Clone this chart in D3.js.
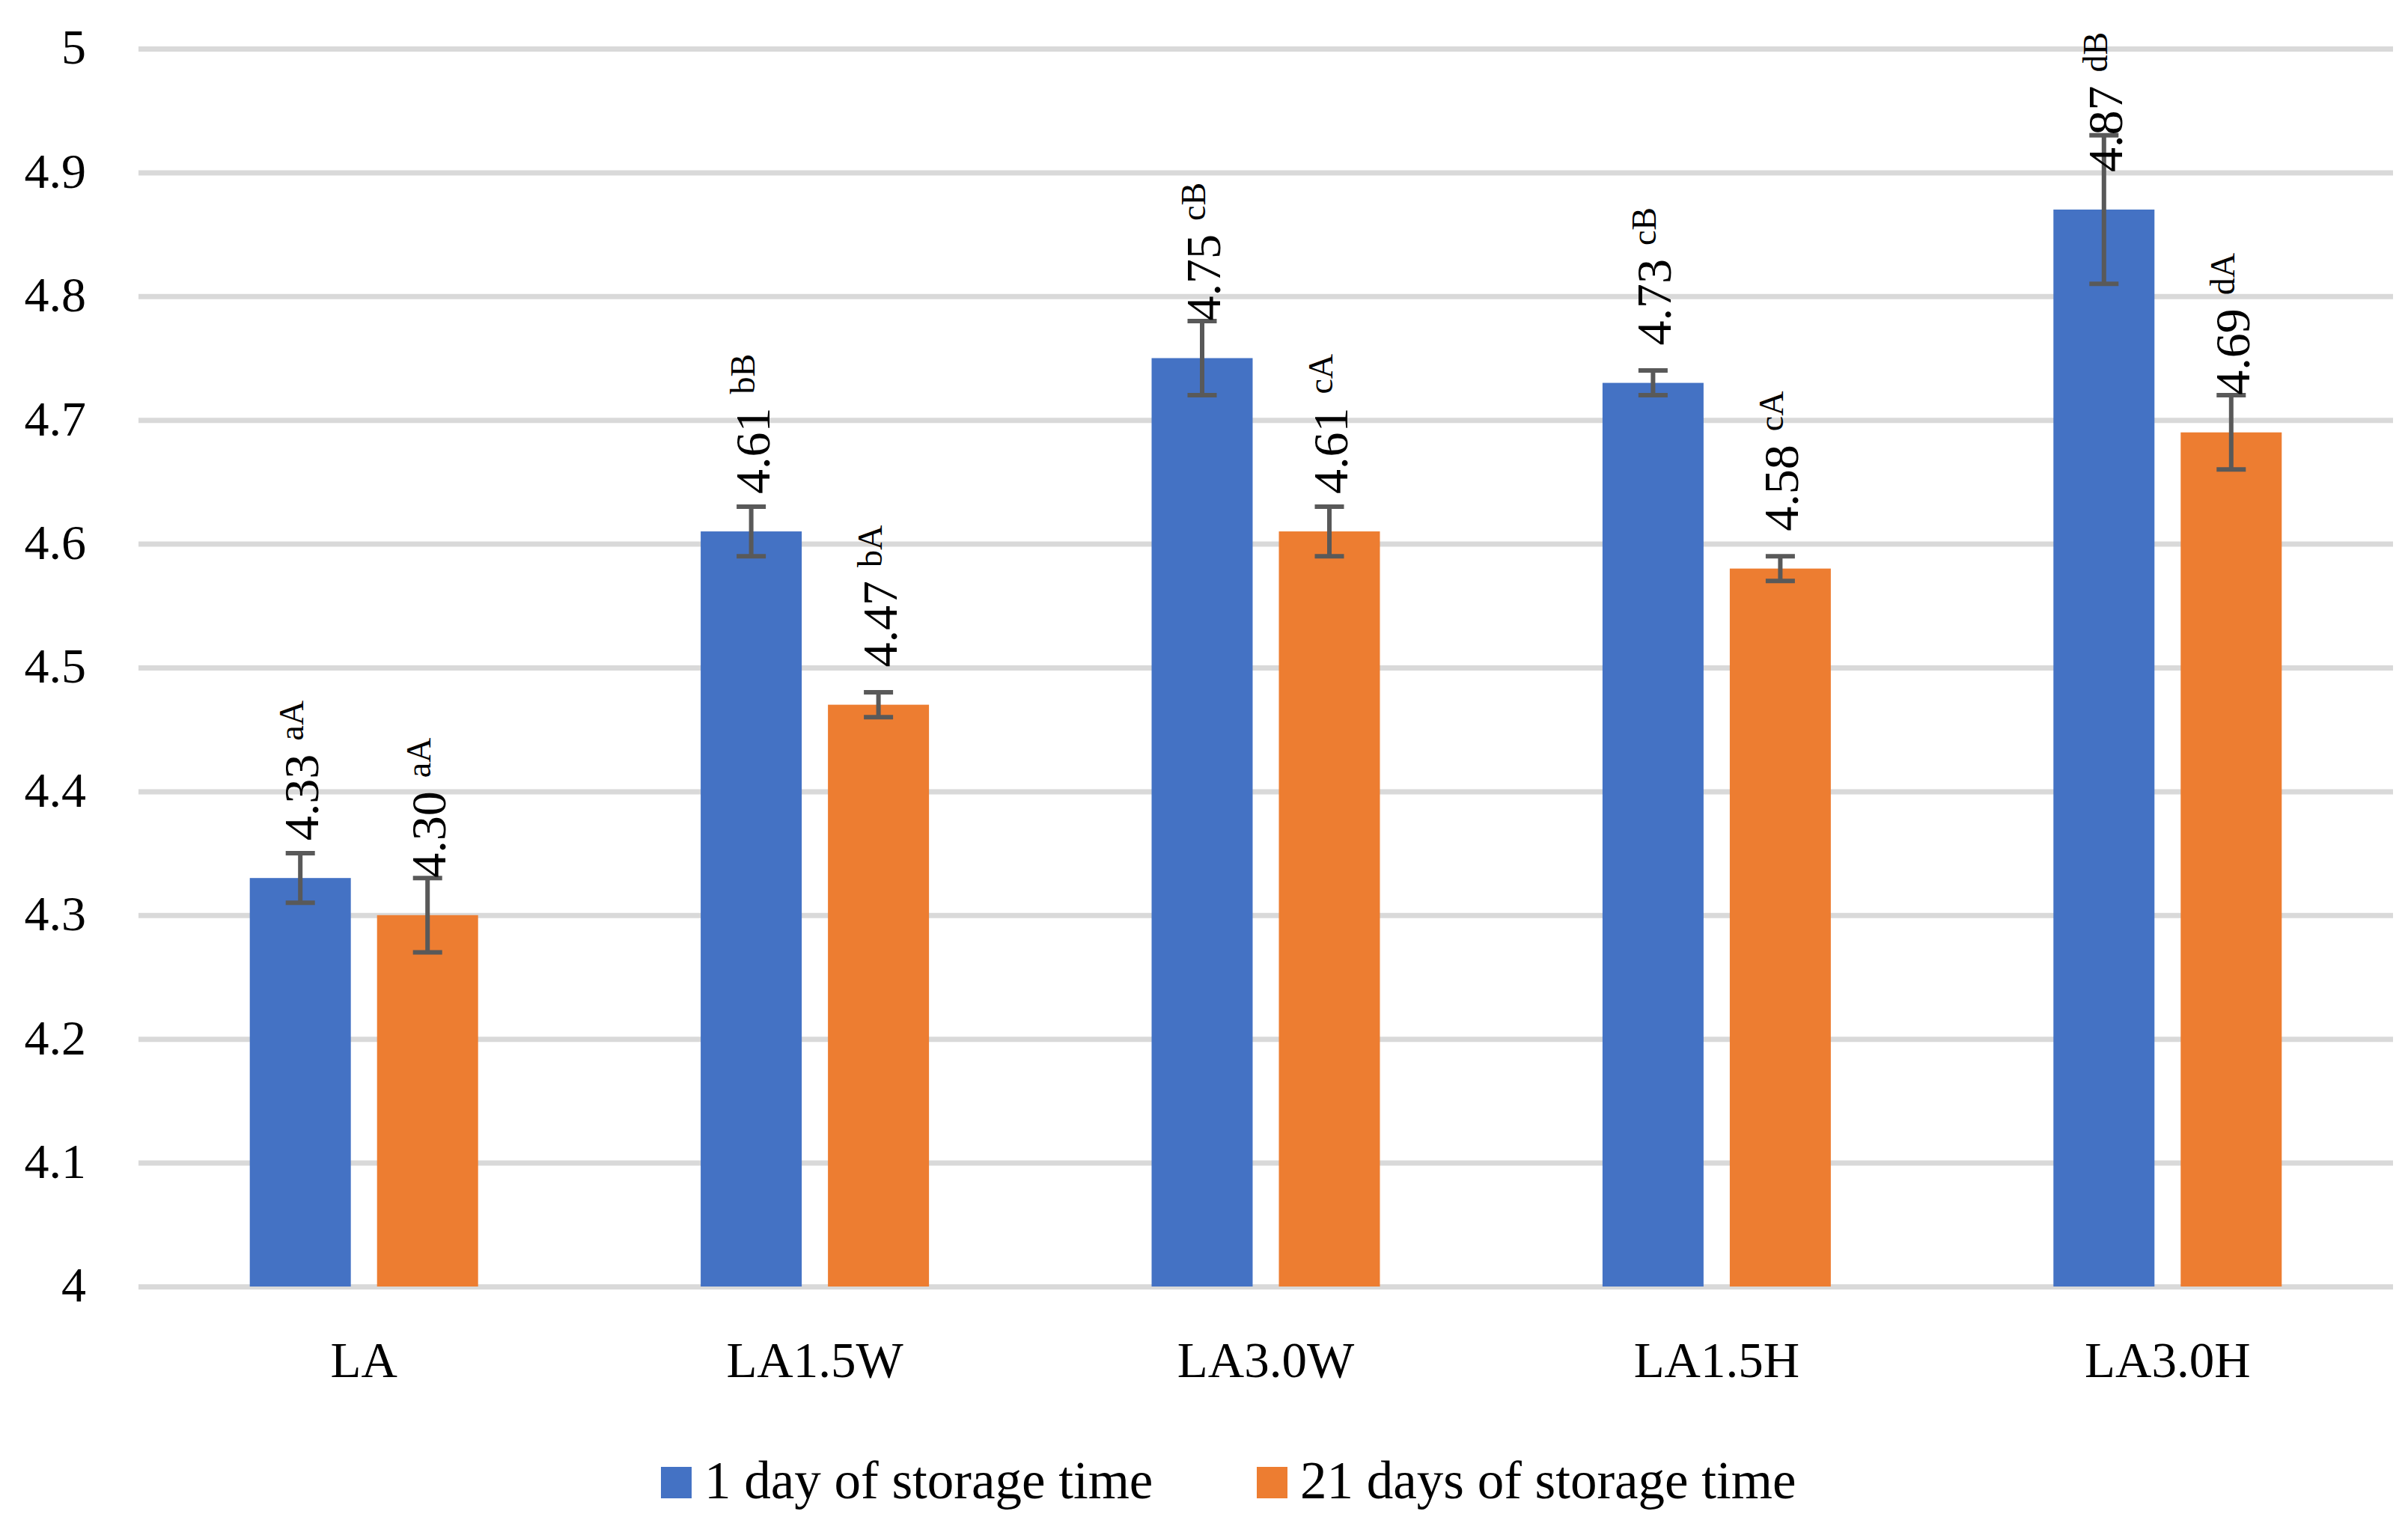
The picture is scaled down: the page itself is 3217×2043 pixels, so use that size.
<!DOCTYPE html>
<html>
<head>
<meta charset="utf-8">
<script src="https://cdn.jsdelivr.net/npm/d3@7"></script>
<style>
  body { margin: 0; background: #fff; }
  svg { display: block; }
  text { font-family: "Liberation Serif", serif; fill: #000; }
</style>
</head>
<body>
<svg id="chart" width="3217" height="2043"></svg>
<script>
// --- data ---
const categories = ["LA", "LA1.5W", "LA3.0W", "LA1.5H", "LA3.0H"];
const seriesNames = ["1 day of storage time", "21 days of storage time"];
const day1Values = [4.33, 4.61, 4.75, 4.73, 4.87];
const day21Values = [4.30, 4.47, 4.61, 4.58, 4.69];
const day1Errors = [0.02, 0.02, 0.03, 0.01, 0.06];
const day21Errors = [0.03, 0.01, 0.02, 0.01, 0.03];
const day1Letters = ["aA", "bB", "cB", "cB", "dB"];
const day21Letters = ["aA", "bA", "cA", "cA", "dA"];
const yTicks = [4, 4.1, 4.2, 4.3, 4.4, 4.5, 4.6, 4.7, 4.8, 4.9, 5];
const colors = ["#4472C4", "#ED7D31"];

const svg = d3.select("#chart");
const plotLeft = 185, plotRight = 3197, plotTop = 65, plotBottom = 1719;

const x0 = d3.scaleBand().domain(categories).range([plotLeft, plotRight])
  .paddingInner(0.4937).paddingOuter(0.4937 / 2);
const x1 = d3.scaleBand().domain(seriesNames).range([0, x0.bandwidth()])
  .paddingInner(0.206).paddingOuter(0);
const y = d3.scaleLinear().domain([4, 5]).range([plotBottom, plotTop]);

// gridlines + y labels
const yAxis = svg.append("g")
  .attr("transform", `translate(${plotLeft},0)`)
  .call(d3.axisLeft(y).tickValues(yTicks).tickFormat(d3.format("")).tickSize(-(plotRight - plotLeft)).tickPadding(70));
yAxis.select(".domain").remove();
yAxis.attr("font-family", null).attr("font-size", null);
yAxis.selectAll(".tick line").attr("stroke", "#d9d9d9").attr("stroke-width", 7);
yAxis.selectAll(".tick text").attr("font-size", 66).attr("dy", "0.3em").attr("fill", "#000");

// category labels
const xAxis = svg.append("g")
  .attr("transform", `translate(0,${plotBottom})`)
  .call(d3.axisBottom(x0).tickSize(0).tickPadding(73));
xAxis.select(".domain").remove();
xAxis.attr("font-family", null).attr("font-size", null);
xAxis.selectAll(".tick text").attr("font-size", 67).attr("fill", "#000");

// rows for bars
const rows = categories.map((c, i) => ({
  cat: c,
  items: [
    { s: seriesNames[0], v: day1Values[i], e: day1Errors[i], l: day1Letters[i], c: colors[0] },
    { s: seriesNames[1], v: day21Values[i], e: day21Errors[i], l: day21Letters[i], c: colors[1] }
  ]
}));

const groups = svg.append("g").selectAll("g").data(rows).join("g")
  .attr("transform", d => `translate(${x0(d.cat)},0)`);

const item = groups.selectAll("g").data(d => d.items).join("g");

item.append("rect")
  .attr("x", d => x1(d.s))
  .attr("y", d => y(d.v))
  .attr("width", x1.bandwidth())
  .attr("height", d => y(4) - y(d.v))
  .attr("fill", d => d.c);

// error bars
const cap = 39;
item.append("path")
  .attr("d", d => {
    const cx = x1(d.s) + x1.bandwidth() / 2;
    const t = y(d.v + d.e), b = y(d.v - d.e);
    return `M${cx - cap / 2},${t}H${cx + cap / 2}M${cx},${t}V${b}M${cx - cap / 2},${b}H${cx + cap / 2}`;
  })
  .attr("stroke", "#595959").attr("stroke-width", 6).attr("fill", "none");

// rotated value labels with superscript letters
const lab = item.append("text")
  .attr("transform", d => {
    const cx = x1(d.s) + x1.bandwidth() / 2 + 24;
    return `translate(${cx},${y(d.v) - 50}) rotate(-90)`;
  })
  .attr("font-size", 66);
lab.append("tspan").text(d => d.v.toFixed(2));
lab.append("tspan").attr("dx", 18).attr("dy", -20).attr("font-size", 46).text(d => d.l);

// legend
const legendX = [883, 1679];
const legend = svg.append("g").selectAll("g").data(seriesNames).join("g")
  .attr("transform", (d, i) => `translate(${legendX[i]},1960)`);
legend.append("rect").attr("width", 41).attr("height", 42).attr("fill", (d, i) => colors[i]);
legend.append("text").attr("x", 58).attr("y", 42).attr("font-size", 71).text(d => d);
</script>
</body>
</html>
